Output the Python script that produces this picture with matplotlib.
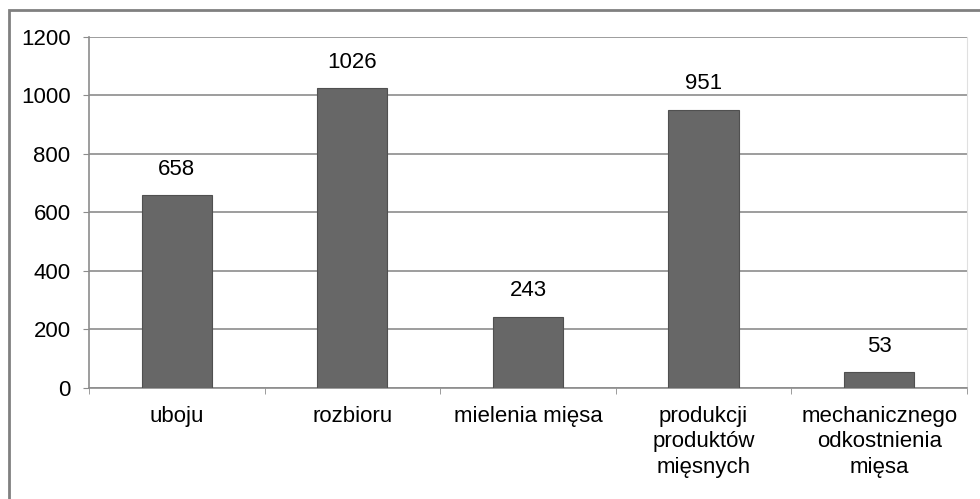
import matplotlib.pyplot as plt
from matplotlib.patches import Rectangle

categories = ["uboju", "rozbioru", "mielenia mięsa",
              "produkcji\nproduktów\nmięsnych",
              "mechanicznego\nodkostnienia\nmięsa"]
values = [658, 1026, 243, 951, 53]
y_ticks = [0, 200, 400, 600, 800, 1000, 1200]

plt.rcParams['font.family'] = ['Liberation Sans', 'DejaVu Sans']
plt.rcParams['font.size'] = 16

fig = plt.figure(figsize=(9.8, 4.99), dpi=100)
ax = fig.add_axes([0.0908, 0.2234, 0.8959, 0.7025])

# outer frame, only top and left edges visible like the original
fig.patches.append(Rectangle((9 / 980, -0.1), 1.2, 1 - 10 / 499 + 0.1,
                             transform=fig.transFigure, fill=False,
                             edgecolor="#808080", linewidth=2))

x = list(range(len(categories)))
bars = ax.bar(x, values, width=0.4, color="#676767", edgecolor="#505050",
              linewidth=0.8, zorder=3)

for xi, v in zip(x, values):
    ax.annotate(str(v), (xi, v), xytext=(0, 11), textcoords="offset points",
                ha="center", va="bottom")

ax.set_xlim(-0.5, len(categories) - 0.5)
ax.set_ylim(0, 1200)
ax.set_yticks(y_ticks)
ax.yaxis.grid(True, color="#8c8c8c", linewidth=1.2, zorder=0)

ax.set_xticks(x)
ax.set_xticklabels(categories, linespacing=1.3)
ax.set_xticks([i - 0.5 for i in range(len(categories) + 1)], minor=True)
ax.tick_params(axis="x", which="major", length=0, pad=13)
ax.tick_params(axis="x", which="minor", length=4.3, color="#8c8c8c")
ax.tick_params(axis="y", length=4.3, color="#8c8c8c", pad=9)

ax.spines["top"].set_visible(False)
ax.spines["left"].set_color("#8c8c8c")
ax.spines["bottom"].set_color("#8c8c8c")
ax.spines["right"].set_color("#e0e0e0")
ax.spines["left"].set_linewidth(1.2)
ax.spines["bottom"].set_linewidth(1.2)

fig.savefig("out.png", dpi=100)
